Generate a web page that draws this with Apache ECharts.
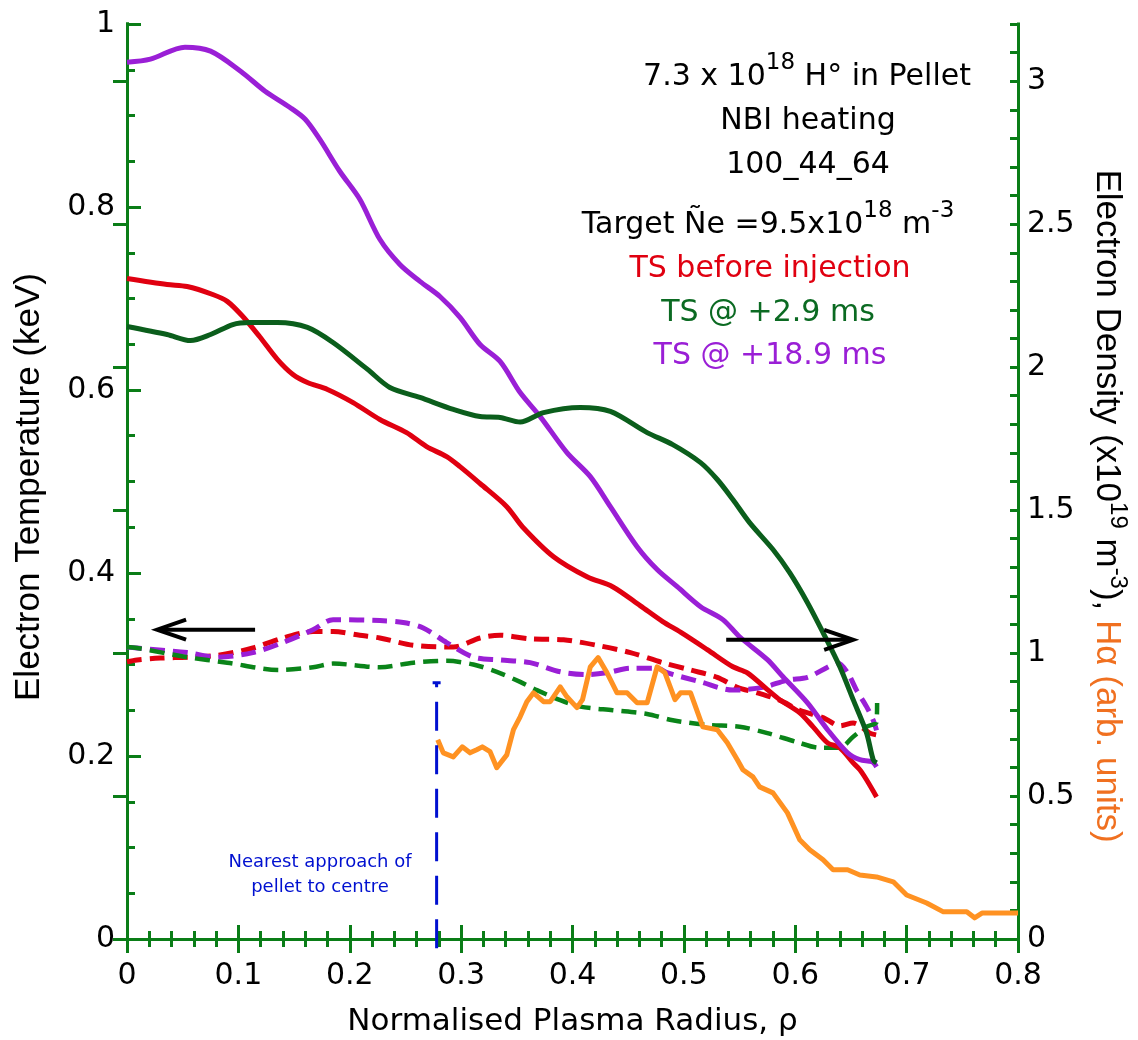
<!DOCTYPE html>
<html>
<head>
<meta charset="utf-8">
<script src="https://cdn.jsdelivr.net/npm/echarts@6/dist/echarts.min.js"></script>
<style>
  html, body { margin: 0; padding: 0; background: #ffffff; }
  #chart { width: 1138px; height: 1040px; }
</style>
</head>
<body>
<div id="chart"></div>
<script>
// Thomson scattering profiles versus normalised plasma radius rho.
// Electron density (x10^19 m^-3, right axis) — solid lines.
const neBefore = [
  [0, 2.310], [0.036, 2.289], [0.054, 2.282], [0.077, 2.254], [0.090, 2.230],
  [0.104, 2.177], [0.119, 2.107], [0.135, 2.027], [0.149, 1.974], [0.162, 1.946],
  [0.180, 1.922], [0.203, 1.876], [0.227, 1.817], [0.251, 1.771], [0.269, 1.722],
  [0.287, 1.687], [0.299, 1.652], [0.317, 1.593], [0.341, 1.512], [0.355, 1.442],
  [0.383, 1.337], [0.413, 1.267], [0.436, 1.232], [0.461, 1.165], [0.481, 1.110],
  [0.497, 1.073], [0.521, 1.012], [0.544, 0.952], [0.557, 0.931], [0.575, 0.872],
  [0.586, 0.837], [0.604, 0.791], [0.616, 0.742], [0.629, 0.686], [0.640, 0.669],
  [0.652, 0.616], [0.658, 0.592], [0.664, 0.557], [0.673, 0.497]
];
const nePlus2_9 = [
  [0, 2.142], [0.036, 2.114], [0.057, 2.093], [0.075, 2.114], [0.095, 2.149],
  [0.110, 2.156], [0.135, 2.156], [0.162, 2.139], [0.185, 2.086], [0.216, 1.992],
  [0.236, 1.929], [0.263, 1.894], [0.293, 1.852], [0.317, 1.827], [0.335, 1.824],
  [0.353, 1.808], [0.374, 1.841], [0.407, 1.859], [0.434, 1.845], [0.467, 1.771],
  [0.490, 1.729], [0.515, 1.666], [0.530, 1.607], [0.544, 1.537], [0.559, 1.456],
  [0.580, 1.362], [0.595, 1.281], [0.611, 1.176], [0.625, 1.071], [0.640, 0.952],
  [0.652, 0.837], [0.664, 0.721], [0.670, 0.627], [0.673, 0.616]
];
const nePlus18_9 = [
  [0, 3.066], [0.021, 3.077], [0.052, 3.119], [0.075, 3.105], [0.102, 3.035],
  [0.124, 2.965], [0.146, 2.909], [0.160, 2.867], [0.173, 2.797], [0.191, 2.685],
  [0.209, 2.587], [0.227, 2.447], [0.245, 2.359], [0.263, 2.300], [0.281, 2.247],
  [0.299, 2.174], [0.317, 2.079], [0.335, 2.020], [0.353, 1.911], [0.371, 1.827],
  [0.395, 1.701], [0.416, 1.617], [0.434, 1.512], [0.458, 1.372], [0.476, 1.292],
  [0.494, 1.232], [0.515, 1.162], [0.535, 1.117], [0.550, 1.057], [0.575, 0.977],
  [0.589, 0.917], [0.611, 0.826], [0.629, 0.732], [0.647, 0.651], [0.658, 0.627],
  [0.669, 0.620], [0.673, 0.602]
];
// Electron temperature (keV, left axis) — dashed lines.
const teBefore = [
  [0, 0.303], [0.009, 0.305], [0.030, 0.307], [0.054, 0.308], [0.081, 0.310],
  [0.113, 0.318], [0.140, 0.329], [0.167, 0.336], [0.185, 0.336], [0.209, 0.332],
  [0.227, 0.329], [0.257, 0.321], [0.293, 0.319], [0.317, 0.329], [0.335, 0.332],
  [0.362, 0.328], [0.392, 0.327], [0.422, 0.321], [0.452, 0.313], [0.481, 0.302],
  [0.506, 0.294], [0.530, 0.286], [0.548, 0.275], [0.566, 0.269], [0.586, 0.261],
  [0.604, 0.250], [0.625, 0.242], [0.640, 0.233], [0.652, 0.236], [0.667, 0.225],
  [0.673, 0.223]
];
const tePlus2_9 = [
  [0, 0.319], [0.009, 0.318], [0.054, 0.308], [0.090, 0.302], [0.137, 0.294],
  [0.167, 0.297], [0.185, 0.301], [0.227, 0.297], [0.257, 0.302], [0.287, 0.304],
  [0.311, 0.300], [0.332, 0.292], [0.353, 0.281], [0.368, 0.272], [0.389, 0.261],
  [0.407, 0.254], [0.436, 0.250], [0.467, 0.246], [0.490, 0.239], [0.521, 0.234],
  [0.550, 0.232], [0.575, 0.225], [0.602, 0.215], [0.622, 0.209], [0.640, 0.209],
  [0.652, 0.221], [0.664, 0.232], [0.673, 0.237], [0.6735, 0.258]
];
const tePlus18_9 = [
  [0, 0.319], [0.009, 0.318], [0.054, 0.313], [0.081, 0.308], [0.113, 0.313],
  [0.140, 0.324], [0.167, 0.338], [0.185, 0.349], [0.227, 0.348], [0.248, 0.346],
  [0.266, 0.340], [0.287, 0.324], [0.311, 0.308], [0.335, 0.305], [0.362, 0.302],
  [0.389, 0.292], [0.413, 0.289], [0.431, 0.291], [0.452, 0.296], [0.476, 0.296],
  [0.485, 0.291], [0.515, 0.281], [0.544, 0.272], [0.571, 0.275], [0.593, 0.283],
  [0.611, 0.286], [0.629, 0.297], [0.638, 0.302], [0.647, 0.291], [0.655, 0.272],
  [0.664, 0.254], [0.670, 0.239], [0.673, 0.228]
];
// H-alpha emission (arb. units, right axis).
const hAlpha = [
  [0.279, 0.697], [0.284, 0.651], [0.293, 0.637], [0.301, 0.672], [0.308, 0.651],
  [0.314, 0.662], [0.319, 0.672], [0.326, 0.655], [0.332, 0.599], [0.341, 0.644],
  [0.347, 0.732], [0.353, 0.777], [0.359, 0.830], [0.365, 0.861], [0.374, 0.830],
  [0.380, 0.830], [0.389, 0.882], [0.395, 0.847], [0.404, 0.809], [0.409, 0.837],
  [0.416, 0.952], [0.423, 0.984], [0.431, 0.931], [0.440, 0.861], [0.449, 0.861],
  [0.458, 0.826], [0.467, 0.826], [0.476, 0.952], [0.483, 0.931], [0.492, 0.837],
  [0.497, 0.861], [0.506, 0.861], [0.517, 0.742], [0.530, 0.732], [0.539, 0.686],
  [0.548, 0.627], [0.553, 0.592], [0.562, 0.567], [0.568, 0.532], [0.580, 0.511],
  [0.593, 0.441], [0.604, 0.347], [0.613, 0.312], [0.625, 0.277], [0.634, 0.242],
  [0.647, 0.242], [0.658, 0.224], [0.673, 0.217], [0.688, 0.200], [0.700, 0.154],
  [0.718, 0.126], [0.733, 0.095], [0.754, 0.095], [0.761, 0.074], [0.768, 0.091],
  [0.800, 0.091]
];
// Radius of the pellet's nearest approach to the centre, and the height of its marker (keV scale).
const pelletRho = 0.278;
const pelletMarkTop = 0.279;
// Axis ranges and tick steps.
const rhoRange = [0, 0.8], rhoStep = 0.1;
const teRange = [0, 1], teStep = 0.2;
const neRange = [0, 3.2], neStep = 0.5, neMinorStep = 0.1;
// Arrows telling which axis each set of curves belongs to: [rho, keV] start -> tip.
const arrowToTe = [[0.115, 0.338], [0.027, 0.338]];
const arrowToNe = [[0.538, 0.327], [0.652, 0.327]];

const FONT = 'DejaVu Sans';
const NAME_FONT = 'Liberation Sans';
const AXIS_GREEN = '#0a7d17';
const RED = '#e00010';
const DARK_GREEN = '#0b5e1c';
const GREEN = '#0a8419';
const PURPLE = '#9a1fd6';
const ORANGE = '#ff9222';
const BLUE = '#0010d0';

const chart = echarts.init(document.getElementById('chart'));

const axisLineStyle = { show: true, lineStyle: { color: AXIS_GREEN, width: 3, cap: 'square' } };
const majorTick = (len) => ({ show: true, inside: true, length: len, lineStyle: { color: AXIS_GREEN, width: 3 } });
const minorTick = (n) => ({ show: true, splitNumber: n, length: 8, lineStyle: { color: AXIS_GREEN, width: 3 } });
const tickLabel = (margin) => ({ color: '#000', fontFamily: FONT, fontSize: 30, margin: margin });

function lineSeries(name, data, axis, color, width, dashed, smooth, z) {
  return {
    name: name, type: 'line', data: data, yAxisIndex: axis, xAxisIndex: 0,
    showSymbol: false, symbol: 'none', smooth: smooth, z: z,
    lineStyle: { color: color, width: width, type: dashed ? [15, 8] : 'solid', cap: 'butt', join: 'round' },
    emphasis: { disabled: true }, animation: false
  };
}

chart.setOption({
  animation: false,
  backgroundColor: '#ffffff',
  grid: { left: 127, right: 120, top: 24, bottom: 101, containLabel: false, outerBoundsMode: 'none' },
  xAxis: [
    {
      type: 'value', position: 'bottom', min: rhoRange[0], max: rhoRange[1], interval: rhoStep,
      axisLine: axisLineStyle, axisTick: majorTick(14), minorTick: minorTick(5),
      splitLine: { show: false }, minorSplitLine: { show: false },
      axisLabel: tickLabel(22),
      name: 'Normalised Plasma Radius, ρ', nameLocation: 'middle', nameGap: 67,
      nameTextStyle: { color: '#000', fontFamily: FONT, fontSize: 31 }
    },
    {
      type: 'value', position: 'top', min: rhoRange[0], max: rhoRange[1], interval: rhoStep,
      axisLine: axisLineStyle, axisTick: majorTick(14), minorTick: minorTick(5),
      splitLine: { show: false }, axisLabel: { show: false }
    }
  ],
  yAxis: [
    {
      type: 'value', position: 'left', min: teRange[0], max: teRange[1], interval: teStep,
      axisLine: axisLineStyle, axisTick: majorTick(14), minorTick: minorTick(4),
      splitLine: { show: false }, minorSplitLine: { show: false },
      axisLabel: tickLabel(12),
      name: 'Electron Temperature (keV)', nameLocation: 'middle', nameRotate: 90, nameGap: 80,
      nameTextStyle: { color: '#000', fontFamily: NAME_FONT, fontSize: 35, padding: [0, 11, 0, 0] }
    },
    {
      type: 'value', position: 'right', min: neRange[0], max: neRange[1], interval: neStep,
      axisLine: axisLineStyle, axisTick: majorTick(14),
      splitLine: { show: false },
      axisLabel: Object.assign(tickLabel(9), { showMaxLabel: false }),
      name: '{t|Electron Density (x10}{s|19}{t| m}{s|-3}{t|), }{o|Hα (arb. units)}',
      nameLocation: 'middle', nameRotate: -90, nameGap: 66,
      nameTextStyle: {
        color: '#000', fontFamily: NAME_FONT, fontSize: 35, padding: [0, 0, 0, 49],
        rich: {
          t: { color: '#000', fontFamily: NAME_FONT, fontSize: 35 },
          s: { color: '#000', fontFamily: NAME_FONT, fontSize: 24, padding: [0, 0, 22, 0] },
          o: { color: '#f07020', fontFamily: NAME_FONT, fontSize: 35 }
        }
      }
    },
    {
      type: 'value', position: 'right', min: neRange[0], max: neRange[1], interval: neMinorStep,
      axisLine: axisLineStyle, axisTick: majorTick(8),
      splitLine: { show: false }, axisLabel: { show: false }
    }
  ],
  series: [
    lineSeries('Te before injection', teBefore, 0, RED, 5, true, 0.3, 3),
    lineSeries('Te +18.9 ms', tePlus18_9, 0, PURPLE, 5, true, 0.3, 3),
    lineSeries('Te +2.9 ms', tePlus2_9, 0, GREEN, 4.5, true, 0.3, 3),
    lineSeries('ne before injection', neBefore, 1, RED, 5, false, 0.3, 4),
    lineSeries('ne +18.9 ms', nePlus18_9, 1, PURPLE, 5, false, 0.3, 4),
    lineSeries('ne +2.9 ms', nePlus2_9, 1, DARK_GREEN, 5, false, 0.3, 4),
    lineSeries('H-alpha', hAlpha, 1, ORANGE, 5, false, false, 5),
    {
      name: 'pellet nearest approach', type: 'line', xAxisIndex: 0, yAxisIndex: 0, clip: false,
      showSymbol: true, showAllSymbol: true, z: 6, animation: false,
      data: [
        { value: [pelletRho, -0.01], symbol: 'none' },
        { value: [pelletRho, pelletMarkTop], symbol: 'path://M0,0 H8 V3 H5 V5 H3 V3 H0 Z', symbolSize: [8, 5] }
      ],
      itemStyle: { color: BLUE, borderWidth: 0 },
      lineStyle: { color: BLUE, width: 3, type: [29, 14.5] },
      emphasis: { disabled: true }
    }
  ]
});

// Annotation block (top right) and the pellet note.
function textEl(x, y, rich, text, color, size) {
  return {
    type: 'text', x: x, y: y, z: 100, silent: true,
    style: {
      text: text, fill: color, fontFamily: FONT, fontSize: size,
      align: 'center', verticalAlign: 'middle', rich: rich
    }
  };
}
const supRich = {
  a: { fontFamily: FONT, fontSize: 30, fill: '#000' },
  s: { fontFamily: FONT, fontSize: 23, fill: '#000', padding: [0, 0, 28, 0] }
};
const graphics = [
  textEl(807, 77, supRich, '{a|7.3 x 10}{s|18}{a| H° in Pellet}', '#000', 30),
  textEl(808, 121, null, 'NBI heating', '#000', 30),
  textEl(808, 165, null, '100_44_64', '#000', 30),
  textEl(768, 225, supRich, '{a|Target Ñe =9.5x10}{s|18}{a| m}{s|-3}', '#000', 30),
  textEl(770, 269, null, 'TS before injection', RED, 30),
  textEl(768, 313, null, 'TS @ +2.9 ms', '#0b6a22', 30),
  textEl(770, 356, null, 'TS @ +18.9 ms', PURPLE, 30),
  {
    type: 'text', x: 320, y: 850, z: 100, silent: true,
    style: {
      text: 'Nearest approach of\npellet to centre', fill: BLUE, fontFamily: FONT,
      fontSize: 18, lineHeight: 25, align: 'center', verticalAlign: 'top'
    }
  }
];

// Arrows in data coordinates, converted to pixels on the temperature scale.
function arrowEls(arrow) {
  const a = chart.convertToPixel({ xAxisIndex: 0, yAxisIndex: 0 }, arrow[0]);
  const b = chart.convertToPixel({ xAxisIndex: 0, yAxisIndex: 0 }, arrow[1]);
  const dir = Math.sign(b[0] - a[0]);
  const len = 29, half = 10;
  const style = { stroke: '#000', lineWidth: 4, fill: null, lineCap: 'butt', lineJoin: 'miter' };
  return [
    { type: 'line', z: 90, silent: true, shape: { x1: a[0], y1: a[1], x2: b[0] - dir * 2, y2: b[1] }, style: style },
    { type: 'polyline', z: 90, silent: true,
      shape: { points: [[b[0] - dir * len, b[1] - half], [b[0], b[1]], [b[0] - dir * len, b[1] + half]] },
      style: style }
  ];
}
chart.setOption({ graphic: graphics.concat(arrowEls(arrowToTe), arrowEls(arrowToNe)) });
</script>
</body>
</html>
